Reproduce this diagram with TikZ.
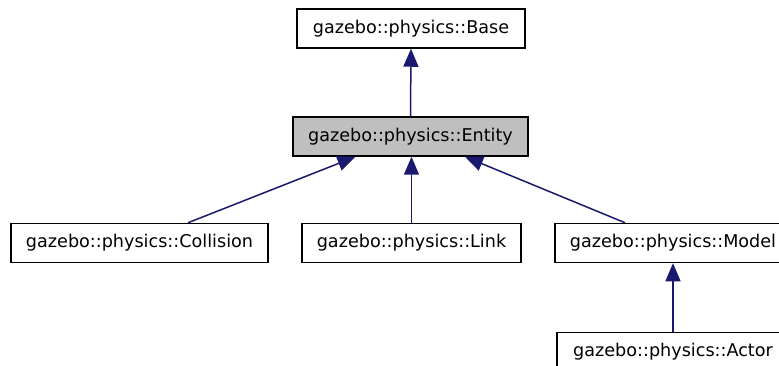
\documentclass[tikz,border=0pt]{standalone}
\usepackage{fontspec}
\setmainfont{DejaVu Sans}
\usetikzlibrary{arrows.meta}
\begin{document}
\begin{tikzpicture}[x=1pt,y=-1pt,
  cls/.style={draw=black, line width=1.5pt, fill=white, rectangle,
    minimum height=39pt, inner xsep=0pt, inner ysep=0pt,
    font=\fontsize{17.6}{20}\selectfont},
  current/.style={cls, fill=black!25},
  inherit/.style={draw={rgb,255:red,25;green,25;blue,112}, line width=1.5pt,
    -{Triangle[length=18pt,width=15pt]}},
]
\useasboundingbox (0,0) rectangle (779,366);

\node[cls, minimum width=228pt] (base) at (411,28.5) {gazebo::physics::Base};
\node[current, minimum width=235pt] (ent) at (410.5,136.5) {gazebo::physics::Entity};
\node[cls, minimum width=257pt] (coll) at (139.5,243) {gazebo::physics::Collision};
\node[cls, minimum width=219pt] (link) at (411.5,243) {gazebo::physics::Link};
\node[cls, minimum width=236pt] (model) at (673,243) {gazebo::physics::Model};
\node[cls, minimum width=232pt] (actor) at (673,352) {gazebo::physics::Actor};

\draw[inherit] (ent.north) -- (base.south);
\draw[inherit] ([xshift=48.5pt]coll.north) -- ([xshift=-55pt]ent.south);
\draw[inherit] (link.north) -- (link.north |- ent.south);
\draw[inherit] ([xshift=-48pt]model.north) -- ([xshift=54.5pt]ent.south);
\draw[inherit] (actor.north) -- (model.south);
\end{tikzpicture}
\end{document}
